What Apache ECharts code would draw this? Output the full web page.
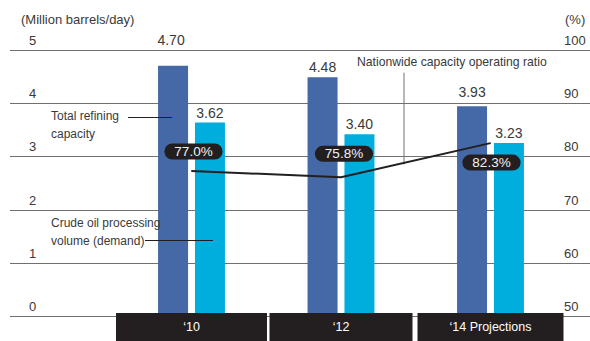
<!DOCTYPE html>
<html>
<head>
<meta charset="utf-8">
<script src="https://cdn.jsdelivr.net/npm/echarts@6/dist/echarts.min.js"></script>
<style>
  html, body { margin: 0; padding: 0; background: #fff; }
  #chart { width: 590px; height: 341px; }
</style>
</head>
<body>
<div id="chart"></div>
<script>
// Refining capacity vs. crude processing volume, with operating ratio
const years = ['\u201810', '\u201812', '\u201814 Projections'];
const refiningCapacity = [4.70, 4.48, 3.93];   // million barrels/day
const crudeProcessing = [3.62, 3.40, 3.23];    // million barrels/day
const operatingRatio = [77.0, 75.8, 82.3];     // %
const leftTicks = [0, 1, 2, 3, 4, 5];
const rightTicks = [50, 60, 70, 80, 90, 100];

const FONT = '"Liberation Sans", Arial, sans-serif';
const TEXT = '#3a3a3a';
const GRID_LINE = '#707070';
const INK = '#231f20';
const DARK_BLUE = '#4568a6';
const CYAN = '#00aede';

const chart = echarts.init(document.getElementById('chart'), null, { renderer: 'svg' });

const boxWidths = [151, 143, 146];
const rich = {};
boxWidths.forEach((w, i) => {
  rich['b' + i] = {
    width: w, height: 28, lineHeight: 28, align: 'center',
    backgroundColor: INK, color: '#ffffff', fontSize: 12.5, fontFamily: FONT
  };
});

// per-bar label nudges so labels clear the gridlines
const capLabelOffset = [[-2, -16], [0, 0], [0, -4]];

chart.setOption({
  animation: false,
  grid: [
    { left: 10, right: 0, top: 50, height: 266.7 },
    { left: 116.75, right: 24.75, top: 50, height: 266.7 }
  ],
  xAxis: [
    { gridIndex: 0, type: 'value', show: false, min: 0, max: 1 },
    {
      gridIndex: 1, type: 'category', data: years,
      axisLine: { show: false }, axisTick: { show: false },
      axisLabel: {
        margin: 0, interval: 0,
        formatter: (v, i) => '{b' + i + '|' + v + '}',
        rich: rich
      }
    }
  ],
  yAxis: [
    {
      gridIndex: 0, type: 'value', min: 0, max: 5, interval: 1, position: 'left',
      data: leftTicks,
      axisLine: { show: false }, axisTick: { show: false },
      splitLine: { show: true, lineStyle: { color: GRID_LINE, width: 1 } },
      axisLabel: {
        inside: true, margin: 19, align: 'left', verticalAlign: 'bottom',
        padding: [0, 0, 3, 0], lineHeight: 14,
        color: TEXT, fontSize: 13, fontFamily: FONT
      }
    },
    {
      gridIndex: 0, type: 'value', min: 50, max: 100, interval: 10, position: 'right',
      axisLine: { show: false }, axisTick: { show: false }, splitLine: { show: false },
      axisLabel: {
        inside: true, margin: 26, align: 'left', verticalAlign: 'bottom',
        padding: [0, 0, 3, 0], lineHeight: 14,
        color: TEXT, fontSize: 13, fontFamily: FONT
      }
    },
    { gridIndex: 1, type: 'value', min: 0, max: 5, show: false },
    { gridIndex: 1, type: 'value', min: 50, max: 100, show: false }
  ],
  series: [
    {
      name: 'Total refining capacity', type: 'bar',
      xAxisIndex: 1, yAxisIndex: 2,
      barWidth: 30, barGap: '23%',
      itemStyle: { color: DARK_BLUE },
      data: refiningCapacity.map((v, i) => ({
        value: v,
        label: { offset: capLabelOffset[i] }
      })),
      label: {
        show: true, position: 'top', distance: 3,
        formatter: p => p.value.toFixed(2),
        color: TEXT, fontSize: 14, fontFamily: FONT
      }
    },
    {
      name: 'Crude oil processing volume (demand)', type: 'bar',
      xAxisIndex: 1, yAxisIndex: 2,
      barWidth: 30, barGap: '23%',
      itemStyle: { color: CYAN },
      data: crudeProcessing,
      label: {
        show: true, position: 'top', distance: 3,
        formatter: p => p.value.toFixed(2),
        color: TEXT, fontSize: 14, fontFamily: FONT
      }
    },
    {
      name: 'Nationwide capacity operating ratio', type: 'line',
      xAxisIndex: 1, yAxisIndex: 3, z: 5,
      symbol: 'circle', symbolSize: 1, showSymbol: true,
      itemStyle: { color: INK },
      lineStyle: { color: INK, width: 2 },
      data: operatingRatio.map((v, i) => ({
        value: v,
        label: [
          { position: 'top', distance: 11, offset: [2, 0] },
          { position: 'top', distance: 15, offset: [3, 0] },
          { position: 'bottom', distance: 11, offset: [1, 0] }
        ][i]
      })),
      label: {
        show: true,
        formatter: p => p.value.toFixed(1) + '%',
        backgroundColor: INK, color: '#f2f2f2',
        borderRadius: 8, padding: [1, 10, 1, 10], lineHeight: 14,
        fontSize: 13.5, fontFamily: FONT
      }
    }
  ],
  graphic: [
    { type: 'text', left: 21, top: 13, z: 10,
      style: { text: '(Million barrels/day)', fill: TEXT, fontSize: 13, fontFamily: FONT } },
    { type: 'text', left: 565, top: 13, z: 10,
      style: { text: '(%)', fill: TEXT, fontSize: 13, fontFamily: FONT } },
    { type: 'text', left: 357, top: 56, z: 10,
      style: { text: 'Nationwide capacity operating ratio', fill: TEXT, fontSize: 12.2, fontFamily: FONT } },
    { type: 'line', z: 1, shape: { x1: 404, y1: 72.7, x2: 404, y2: 164.4 },
      style: { stroke: GRID_LINE, lineWidth: 1 } },
    { type: 'text', left: 51, top: 107, z: 10,
      style: { text: 'Total refining\ncapacity', fill: TEXT, fontSize: 12, lineHeight: 18, fontFamily: FONT } },
    { type: 'line', z: 10, shape: { x1: 128, y1: 117.5, x2: 172, y2: 117.5 },
      style: { stroke: INK, lineWidth: 1 } },
    { type: 'text', left: 51, top: 214, z: 10,
      style: { text: 'Crude oil processing\nvolume (demand)', fill: TEXT, fontSize: 12, lineHeight: 18, fontFamily: FONT } },
    { type: 'line', z: 10, shape: { x1: 145, y1: 240.5, x2: 213, y2: 240.5 },
      style: { stroke: INK, lineWidth: 1 } }
  ]
});
</script>
</body>
</html>
